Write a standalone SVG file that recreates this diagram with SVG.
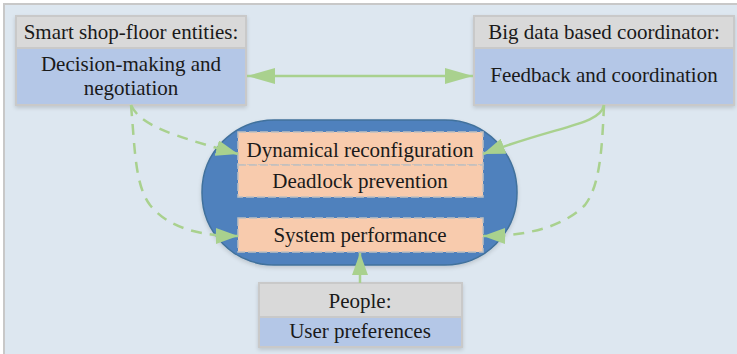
<svg xmlns="http://www.w3.org/2000/svg" width="737" height="354" viewBox="0 0 737 354">
<defs>
<marker id="ahb" viewBox="0 0 10 10" refX="10" refY="5" markerWidth="28" markerHeight="16" markerUnits="userSpaceOnUse" orient="auto-start-reverse" preserveAspectRatio="none">
<path d="M0,0 L10,5 L0,10 Z" fill="#a9d18e"/>
</marker>
<marker id="ahs" viewBox="0 0 10 10" refX="10" refY="5" markerWidth="22" markerHeight="16" markerUnits="userSpaceOnUse" orient="auto-start-reverse" preserveAspectRatio="none">
<path d="M0,0 L10,5 L0,10 Z" fill="#a9d18e"/>
</marker>
<filter id="sh" x="-10%" y="-10%" width="120%" height="130%">
<feGaussianBlur in="SourceAlpha" stdDeviation="2"/>
<feOffset dy="2"/>
<feComponentTransfer><feFuncA type="linear" slope="0.15"/></feComponentTransfer>
<feMerge><feMergeNode/><feMergeNode in="SourceGraphic"/></feMerge>
</filter>
</defs>
<rect x="4" y="4" width="740" height="360" fill="#dde7f0" stroke="#c8c8c8" stroke-width="2"/>

<g id="core">
<rect x="202" y="120" width="315" height="145" rx="72" ry="72" fill="#4f81bd" stroke="#41719c" stroke-width="1.5" filter="url(#sh)"/>
<g fill="#f8cbad" stroke="#c0c0c0" stroke-width="1.5" stroke-dasharray="8 3">
<rect x="238" y="132" width="245" height="33"/>
<rect x="238" y="165" width="245" height="32"/>
<rect x="238" y="218" width="245" height="34"/>
</g>
<text x="360" y="157" font-family="'Liberation Serif'" font-size="21" text-anchor="middle" fill="#1a1a1a">Dynamical reconfiguration</text>
<text x="360" y="188" font-family="'Liberation Serif'" font-size="21" text-anchor="middle" fill="#1a1a1a">Deadlock prevention</text>
<text x="360" y="242" font-family="'Liberation Serif'" font-size="21" text-anchor="middle" fill="#1a1a1a">System performance</text>
</g>

<g id="smart">
<g filter="url(#sh)" stroke="#c9c9c9" stroke-width="2">
<rect x="16" y="16" width="230" height="32" fill="#d9d9d9"/>
<rect x="16" y="48" width="230" height="57" fill="#b4c7e7"/>
</g>
<text x="131" y="39" font-family="'Liberation Serif'" font-size="21" text-anchor="middle" fill="#1a1a1a">Smart shop-floor entities:</text>
<text x="131" y="71" font-family="'Liberation Serif'" font-size="21" text-anchor="middle" fill="#1a1a1a">Decision-making and</text>
<text x="131" y="95" font-family="'Liberation Serif'" font-size="21" text-anchor="middle" fill="#1a1a1a">negotiation</text>
</g>

<g id="bigdata">
<g filter="url(#sh)" stroke="#c9c9c9" stroke-width="2">
<rect x="474" y="16" width="260" height="32" fill="#d9d9d9"/>
<rect x="474" y="48" width="260" height="57" fill="#b4c7e7"/>
</g>
<text x="604" y="39" font-family="'Liberation Serif'" font-size="21" text-anchor="middle" fill="#1a1a1a">Big data based coordinator:</text>
<text x="604" y="82" font-family="'Liberation Serif'" font-size="21" text-anchor="middle" fill="#1a1a1a">Feedback and coordination</text>
</g>

<g id="people">
<g filter="url(#sh)" stroke="#c9c9c9" stroke-width="2">
<rect x="259" y="283" width="203" height="34" fill="#d9d9d9"/>
<rect x="259" y="317" width="203" height="30" fill="#b4c7e7"/>
</g>
<text x="360" y="308" font-family="'Liberation Serif'" font-size="21" text-anchor="middle" fill="#1a1a1a">People:</text>
<text x="360" y="338" font-family="'Liberation Serif'" font-size="21" text-anchor="middle" fill="#1a1a1a">User preferences</text>
</g>

<g id="connectors" fill="none" stroke="#a9d18e" stroke-width="2.5">
<path d="M247,76 L473,76" marker-start="url(#ahb)" marker-end="url(#ahb)"/>
<path d="M131,105 C140,125 170,135 238,154" stroke-dasharray="11 8" marker-end="url(#ahs)"/>
<path d="M131,105 C135,150 135,185 150,205 C170,230 205,236 238,236" stroke-dasharray="11 8" marker-end="url(#ahs)"/>
<path d="M604,105 C600,125 560,125 483,154" marker-end="url(#ahs)"/>
<path d="M604,105 C602,150 600,185 585,205 C560,230 520,236 483,236" stroke-dasharray="11 8" marker-end="url(#ahs)"/>
<path d="M360,283 L360,253" marker-end="url(#ahs)"/>
</g>
</svg>
